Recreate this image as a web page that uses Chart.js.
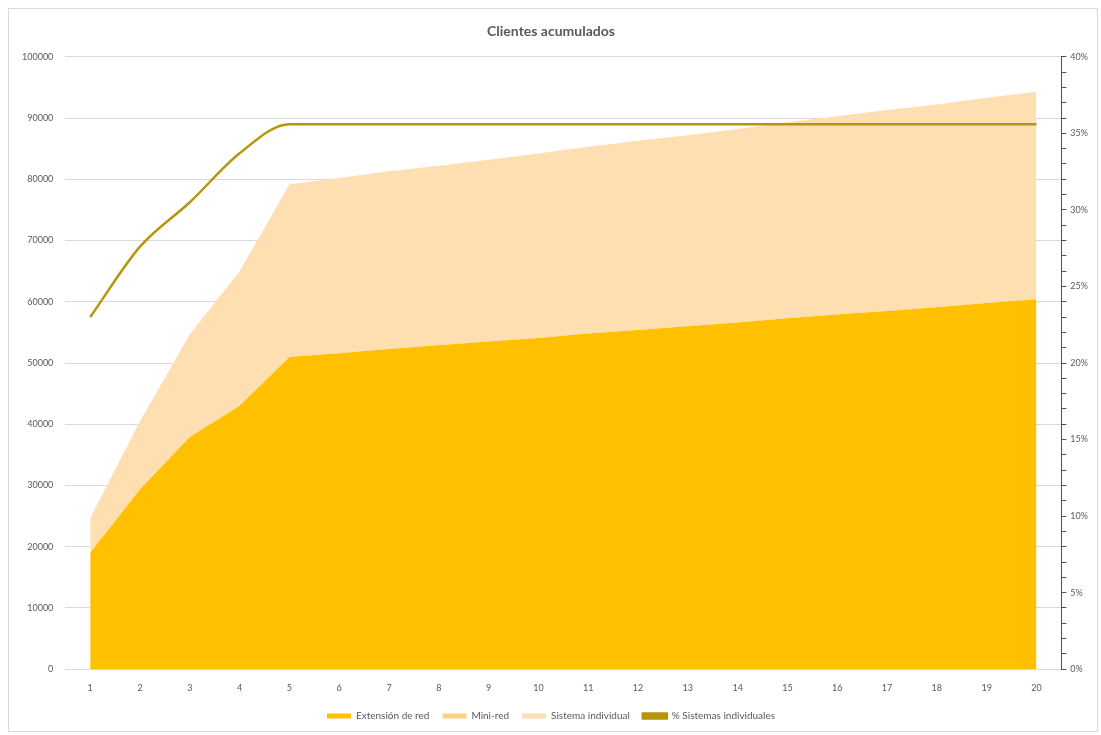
<!DOCTYPE html>
<html>
<head>
<meta charset="utf-8">
<script src="https://cdn.jsdelivr.net/npm/chart.js@4.4.1/dist/chart.umd.min.js"></script>
<style>
  html, body { margin: 0; padding: 0; background: #ffffff; }
  #wrap { position: absolute; left: 8px; top: 8px; width: 1090px; height: 724px; border: 1px solid #d9d9d9; box-sizing: border-box; background:#fff; }
  canvas { display: block; }
</style>
</head>
<body>
<div id="wrap"><canvas id="c"></canvas></div>
<script>
const categories = ['1','2','3','4','5','6','7','8','9','10','11','12','13','14','15','16','17','18','19','20'];
const extensionRed = [19000, 29400, 37900, 43000, 51000, 51600, 52300, 52900, 53500, 54100, 54800, 55400, 56000, 56600, 57300, 57900, 58500, 59100, 59800, 60400];
const miniRed = [0, 0, 0, 0, 0, 0, 0, 0, 0, 0, 0, 0, 0, 0, 0, 0, 0, 0, 0, 0];
const sistemaIndividual = [5700, 11100, 16800, 22000, 28200, 28600, 29000, 29300, 29700, 30100, 30500, 30900, 31200, 31600, 32000, 32400, 32800, 33100, 33500, 33900];
const pctSistemas = [23.0, 27.6, 30.5, 33.7, 35.6, 35.6, 35.6, 35.6, 35.6, 35.6, 35.6, 35.6, 35.6, 35.6, 35.6, 35.6, 35.6, 35.6, 35.6, 35.6];
const leftTicks = [0, 10000, 20000, 30000, 40000, 50000, 60000, 70000, 80000, 90000, 100000];
const rightMajor = [0, 5, 10, 15, 20, 25, 30, 35, 40];

const FONT = 'Lato, "Open Sans", "Liberation Sans", sans-serif';
const GREY = '#595959';

new Chart(document.getElementById('c'), {
  type: 'line',
  data: {
    labels: categories,
    datasets: [
      { label: 'Extensión de red', data: extensionRed, backgroundColor: '#FFC000', borderWidth: 0, pointRadius: 0, fill: 'origin', yAxisID: 'y', order: 1 },
      { label: 'Mini-red', data: miniRed, backgroundColor: '#FFD27F', borderWidth: 0, pointRadius: 0, fill: '-1', yAxisID: 'y', order: 1 },
      { label: 'Sistema individual', data: sistemaIndividual, backgroundColor: '#FEDFB2', borderWidth: 0, pointRadius: 0, fill: '-1', yAxisID: 'y', order: 1 },
      { label: '% Sistemas individuales', data: pctSistemas, borderColor: '#B8960C', backgroundColor: '#B8960C', borderWidth: 2.5, pointRadius: 0, fill: false, cubicInterpolationMode: 'monotone', yAxisID: 'y1', order: 0 }
    ]
  },
  options: {
    responsive: true,
    maintainAspectRatio: false,
    animation: false,
    layout: { padding: { left: 1, right: 5, top: 2, bottom: 0 } },
    plugins: {
      title: { display: true, text: 'Clientes acumulados', color: GREY, font: { family: FONT, size: 14 }, padding: { top: 12, bottom: 17 } },
      legend: {
        position: 'bottom',
        labels: {
          color: GREY, font: { family: FONT, size: 10 }, boxWidth: 24, boxHeight: 5, padding: 13,
          sort: (a, b) => a.datasetIndex - b.datasetIndex
        }
      },
      tooltip: { enabled: false }
    },
    scales: {
      x: {
        offset: true,
        grid: { display: false },
        border: { display: true, color: '#d9d9d9' },
        ticks: { color: GREY, font: { family: FONT, size: 9 }, padding: 5 }
      },
      y: {
        stacked: true,
        min: 0, max: 100000,
        afterBuildTicks: (s) => { s.ticks = leftTicks.map(v => ({ value: v })); },
        ticks: { color: GREY, font: { family: FONT, size: 9 }, padding: 12, callback: (v) => String(v) },
        grid: { color: '#d9d9d9', drawTicks: false },
        border: { display: false }
      },
      y1: {
        position: 'right',
        min: 0, max: 40,
        ticks: { stepSize: 1, autoSkip: false, color: GREY, font: { family: FONT, size: 9 }, padding: 4,
          callback: (v) => rightMajor.includes(v) ? v + '%' : '' },
        grid: { drawOnChartArea: false, color: '#44546A', tickLength: 5 },
        border: { display: true, color: '#44546A', width: 1 }
      }
    }
  }
});
</script>
</body>
</html>
